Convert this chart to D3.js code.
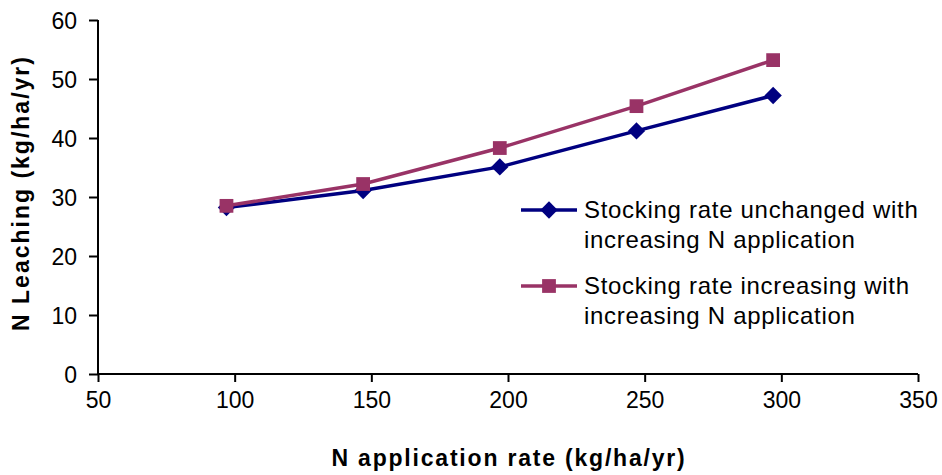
<!DOCTYPE html>
<html>
<head>
<meta charset="utf-8">
<script src="https://cdn.jsdelivr.net/npm/d3@7"></script>
<style>
  body { margin: 0; background: #fff; }
  text { font-family: "Liberation Sans", Arial, sans-serif; }
</style>
</head>
<body>
<script>
// N application rate (kg/ha/yr)
var rates = [97, 147, 197, 247, 297];
// N leaching (kg/ha/yr)
var unchanged = [28.2, 31.1, 35.1, 41.2, 47.2];
var increasing = [28.5, 32.2, 38.3, 45.4, 53.2];
var seriesNames = [
    ["Stocking rate unchanged with", "increasing N application"],
    ["Stocking rate increasing with", "increasing N application"]
];
var xTicks = [50, 100, 150, 200, 250, 300, 350];
var yTicks = [0, 10, 20, 30, 40, 50, 60];

var svg = d3.select("body")
    .append("svg")
    .attr("width", 942)
    .attr("height", 475);

var xScale = d3.scaleLinear()
    .domain([50, 350])
    .range([98, 918]);

var yScale = d3.scaleLinear()
    .domain([0, 60])
    .range([374, 20]);

var xAxis = d3.axisBottom(xScale).tickValues(xTicks).tickSize(8).tickPadding(10);
var yAxis = d3.axisLeft(yScale).tickValues(yTicks).tickSize(9).tickPadding(12);

var gx = svg.append("g")
    .attr("transform", "translate(0,374)")
    .call(xAxis);

var gy = svg.append("g")
    .attr("transform", "translate(98,0)")
    .call(yAxis);

[gx, gy].forEach(function (g) {
    g.select(".domain").attr("stroke", "#000").attr("stroke-width", 2);
    g.selectAll(".tick line").attr("stroke", "#000").attr("stroke-width", 2);
    g.selectAll(".tick text")
        .attr("fill", "#000")
        .style("font-size", "23px");
});
gy.select(".domain").attr("d", "M0,20V374");
gx.select(".domain").attr("d", "M98,0H918");
gy.selectAll(".tick text").attr("dy", "0.35em");

// diamond = square turned 45 degrees
var series = [
    {values: unchanged, color: "#000080", shape: d3.symbolSquare, size: 150, rot: 45},
    {values: increasing, color: "#993366", shape: d3.symbolSquare, size: 190, rot: 0}
];

var line = d3.line()
    .x(function (d) { return xScale(d[0]); })
    .y(function (d) { return yScale(d[1]); });

series.forEach(function (s) {
    var pts = rates.map(function (r, i) { return [r, s.values[i]]; });
    svg.append("path")
        .datum(pts)
        .attr("fill", "none")
        .attr("stroke", s.color)
        .attr("stroke-width", 3.5)
        .attr("d", line);
    svg.selectAll(null)
        .data(pts)
        .enter()
        .append("path")
        .attr("transform", function (d) {
            return "translate(" + xScale(d[0]) + "," + yScale(d[1]) + ") rotate(" + s.rot + ")";
        })
        .attr("d", d3.symbol().type(s.shape).size(s.size))
        .attr("fill", s.color);
});

// legend
var legend = svg.append("g");
var rowY = [210, 286];
series.forEach(function (s, i) {
    var g = legend.append("g").attr("transform", "translate(0," + rowY[i] + ")");
    g.append("line")
        .attr("x1", 521).attr("x2", 577)
        .attr("stroke", s.color).attr("stroke-width", 3.5);
    g.append("path")
        .attr("transform", "translate(549,0) rotate(" + s.rot + ")")
        .attr("d", d3.symbol().type(s.shape).size(s.size))
        .attr("fill", s.color);
    g.selectAll(null)
        .data(seriesNames[i])
        .enter()
        .append("text")
        .attr("x", 584)
        .attr("y", function (d, j) { return 8 + j * 30; })
        .attr("fill", "#000")
        .style("font-size", "24px")
        .style("letter-spacing", "0.7px")
        .text(function (d) { return d; });
});

svg.append("text")
    .attr("x", 509)
    .attr("y", 466)
    .style("text-anchor", "middle")
    .style("font-size", "23px")
    .style("font-weight", "bold")
    .style("letter-spacing", "1.8px")
    .attr("fill", "#000")
    .text("N application rate (kg/ha/yr)");

svg.append("text")
    .attr("transform", "translate(29,193) rotate(-90)")
    .style("text-anchor", "middle")
    .style("font-size", "23px")
    .style("font-weight", "bold")
    .style("letter-spacing", "2px")
    .attr("fill", "#000")
    .text("N Leaching (kg/ha/yr)");
</script>
</body>
</html>
